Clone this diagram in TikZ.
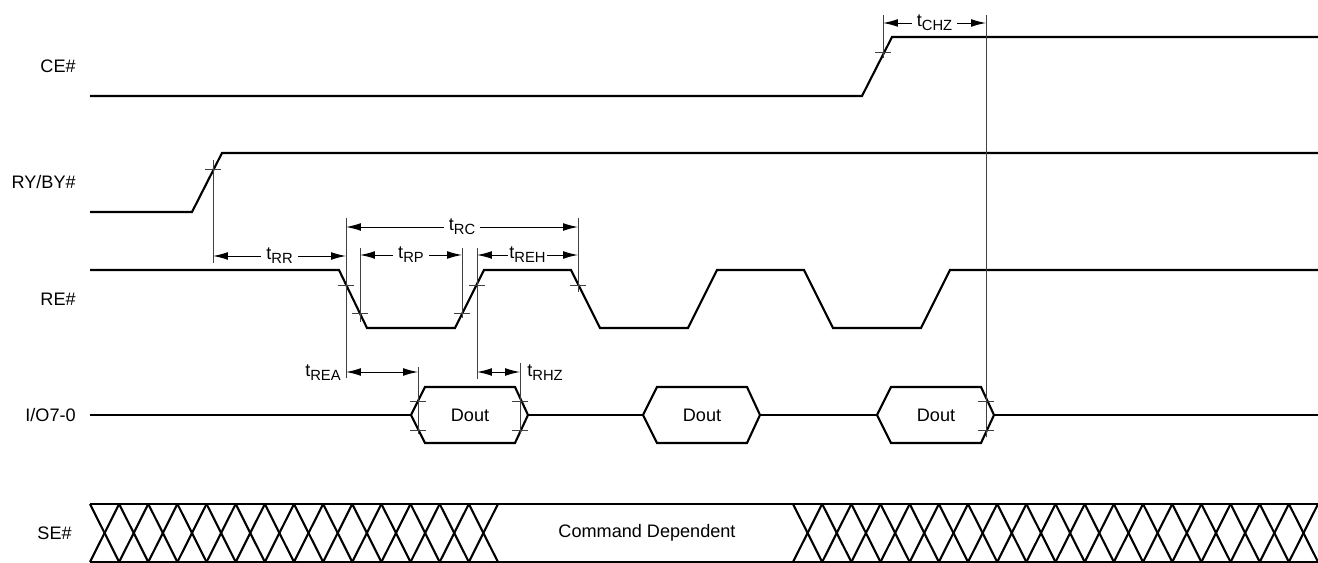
\documentclass[tikz,border=0pt]{standalone}
\usepackage{fontspec}
\setmainfont{Liberation Sans}
\usetikzlibrary{arrows.meta}

\newcommand{\tsub}[1]{t\raisebox{-0.45ex}{\fontsize{8.4}{9}\selectfont #1}}

\begin{document}
\begin{tikzpicture}[x=0.02cm, y=-0.02cm,
                % Style for the waveforms
                signal/.style={draw=black, line width=1.2pt, line join=miter},
                refline/.style={draw=black!75, line width=0.55pt},
                tickmark/.style={draw=black!75, line width=0.55pt},
                % Style for timing arrows
                dimarrow/.style={{Latex[length=8.5pt,width=4.4pt]}-{Latex[length=8.5pt,width=4.4pt]}, draw=black, line width=0.55pt},
                dimlabel/.style={fill=white, inner xsep=3pt, inner ysep=1pt, font=\fontsize{10.3}{12}\selectfont},
                % Style for texts
                siglabel/.style={anchor=east, inner sep=0pt, font=\fontsize{10.3}{12}\selectfont},
                boxtext/.style={inner sep=0pt, font=\fontsize{10.3}{12}\selectfont}
            ]
                \useasboundingbox (0,0) rectangle (1318,563);

                % --- SIGNAL NAMES ---
                \node[siglabel] (lce) at (76,66) {CE\#};
                \node[siglabel] (lry) at (76,182) {RY/BY\#};
                \node[siglabel] (lre) at (76,299) {RE\#};
                \node[siglabel] (lio) at (76,415) {I/O7-0};
                \node[siglabel] (lse) at (72,533) {SE\#};

                % --- WAVEFORMS ---
                % CE#
                \draw[signal] (90,96) -- (862,96) -- (892,37) -- (1318,37);
                % RY/BY#
                \draw[signal] (90,212) -- (192,212) -- (222,153) -- (1318,153);
                % RE#
                \draw[signal] (90,270) -- (339,270) -- (367,328) -- (455,328) -- (484,270)
                    -- (571,270) -- (600,328) -- (688,328) -- (717,270)
                    -- (804,270) -- (833,328) -- (921,328) -- (950,270) -- (1318,270);

                % I/O7-0
                \draw[signal] (90,415) -- (411,415);
                \draw[signal] (528,415) -- (643,415);
                \draw[signal] (761,415) -- (877,415);
                \draw[signal] (993,415) -- (1318,415);
                \foreach \xl/\n in {411/1, 643/2, 877/3} {
                    \draw[signal] (\xl,415) -- (\xl+14,387) -- (\xl+104,387) -- (\xl+117,415)
                        -- (\xl+104,443) -- (\xl+14,443) -- cycle;
                    \node[boxtext] (dout\n) at (\xl+59,415) {Dout};
                }

                % SE#
                \draw[signal] (90,504) -- (1318,504);
                \draw[signal] (90,562) -- (1318,562);
                \foreach \i in {0,...,13} {
                    \draw[signal] (90+\i*29.14,504) -- (90+\i*29.14+29.14,562);
                    \draw[signal] (90+\i*29.14,562) -- (90+\i*29.14+29.14,504);
                }
                \foreach \i in {0,...,17} {
                    \draw[signal] (793+\i*29.17,504) -- (793+\i*29.17+29.17,562);
                    \draw[signal] (793+\i*29.17,562) -- (793+\i*29.17+29.17,504);
                }
                \node[boxtext] (cmd) at (647,533) {Command Dependent};

                % --- REFERENCE POINTS ---
                \coordinate (ceup) at (883,52);
                \coordinate (ryup) at (213,169);
                \coordinate (refall) at (346,285);
                \coordinate (relow) at (360,313);
                \coordinate (rerise) at (462,313);
                \coordinate (rehigh) at (477,285);
                \coordinate (refall2) at (578,285);
                \coordinate (doutL) at (418,401);
                \coordinate (doutR) at (520,401);
                \coordinate (hiz) at (986,401);

                % vertical lines
                \draw[refline] (ceup |- 0,15) -- (ceup |- 0,58);
                \draw[refline] (hiz |- 0,15) -- (hiz |- 0,437);
                \draw[refline] (ryup |- 0,160) -- (ryup |- 0,263);
                \draw[refline] (refall |- 0,218) -- (refall |- 0,378);
                \draw[refline] (relow |- 0,248) -- (relow |- 0,322);
                \draw[refline] (rerise |- 0,248) -- (rerise |- 0,318);
                \draw[refline] (rehigh |- 0,248) -- (rehigh |- 0,379);
                \draw[refline] (refall2 |- 0,218) -- (refall2 |- 0,292);
                \draw[refline] (doutL |- 0,367) -- (doutL |- 0,434);
                \draw[refline] (doutR |- 0,363) -- (doutR |- 0,434);

                % tick marks on the edges
                \foreach \x/\y in {883/52, 213/169, 346/285, 360/313, 462/313, 477/285, 578/285,
                                   418/401, 418/430, 520/401, 520/430, 986/401, 986/430} {
                    \draw[tickmark] (\x-8,\y) -- (\x+8,\y);
                }

                % --- TIMING ARROWS ---
                \draw[dimarrow] (ceup |- 0,23) -- node[dimlabel] (tchz) {\tsub{CHZ}} (hiz |- 0,23);
                \draw[dimarrow] (refall |- 0,227) -- node[dimlabel] (trc) {\tsub{RC}} (refall2 |- 0,227);
                \draw[dimarrow] (ryup |- 0,256) -- node[dimlabel] (trr) {\tsub{RR}} (refall |- 0,256);
                \draw[dimarrow] (relow |- 0,255) -- node[dimlabel] (trp) {\tsub{RP}} (rerise |- 0,255);
                \draw[dimarrow] (rehigh |- 0,255) -- node[dimlabel, inner xsep=1pt] (treh) {\tsub{REH}} (refall2 |- 0,255);
                \draw[dimarrow] (refall |- 0,372) -- (doutL |- 0,372);
                \draw[dimarrow] (rehigh |- 0,372) -- (doutR |- 0,372);
                \node[dimlabel, anchor=east, inner xsep=0pt] (trea) at (341,373) {\tsub{REA}};
                \node[dimlabel, anchor=west, inner xsep=0pt] (trhz) at (527,373) {\tsub{RHZ}};

            \end{tikzpicture}
\end{document}
